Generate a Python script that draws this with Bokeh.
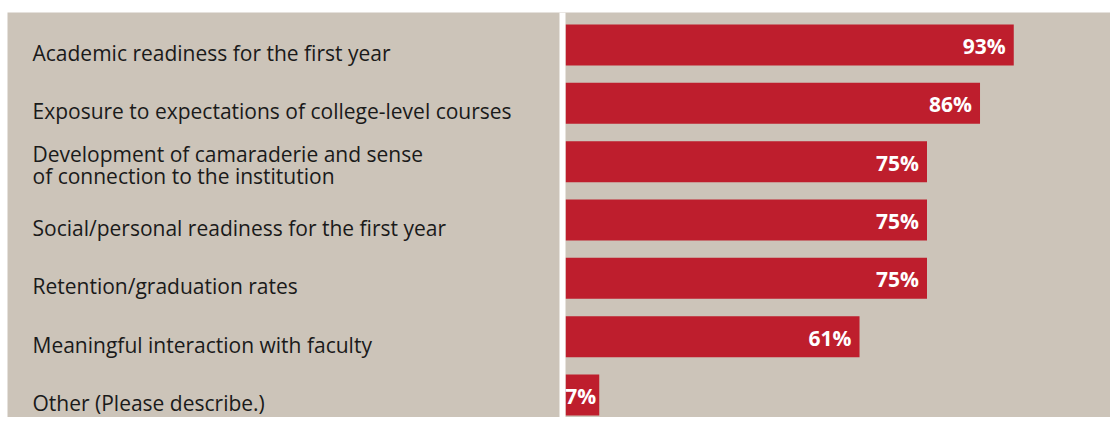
from bokeh.plotting import figure
from bokeh.models import Range1d, ColumnDataSource, BoxAnnotation
from bokeh.core.properties import value
from bokeh.embed import file_html
from bokeh.resources import INLINE

categories = [
    "Academic readiness for the first year",
    "Exposure to expectations of college-level courses",
    "Development of camaraderie and sense\nof connection to the institution",
    "Social/personal readiness for the first year",
    "Retention/graduation rates",
    "Meaningful interaction with faculty",
    "Other (Please describe.)",
]
values = [93, 86, 75, 75, 75, 61, 7]
value_labels = ["93%", "86%", "75%", "75%", "75%", "61%", "7%"]

BEIGE = "#CCC4B9"
RED = "#BE1E2D"

W, H = 1110, 417
LEFT, TOP = 7, 12
px_per = 4.82            # pixels per percentage point
zero_px = 565 - LEFT     # x pixel of 0 % inside the frame
frame_w = W - LEFT
x_start = -zero_px / px_per
x_end = (frame_w - zero_px) / px_per

pitch = 58.33
first_c = 44.5 - TOP     # first bar centre relative to frame top
frame_h = H - TOP
y_top = -first_c / pitch
y_bot = (frame_h - first_c) / pitch

rows = list(range(len(categories)))
src = ColumnDataSource(dict(
    y=rows,
    v=values,
    lab=value_labels,
    cat=categories,
    lx=[x_start + 25 / px_per] * len(rows),
    off=[-8 if v >= 10 else -3 for v in values],
    yoff=[3 if "\n" in c else 8 for c in categories],
))

p = figure(width=W, height=H, output_backend="svg", toolbar_location=None,
           x_range=Range1d(x_start, x_end), y_range=Range1d(y_bot, y_top),
           min_border_left=LEFT, min_border_right=0, min_border_bottom=0,
           min_border_top=TOP)
p.background_fill_color = BEIGE
p.border_fill_color = "white"
p.outline_line_color = None
p.grid.visible = False
p.axis.visible = False

# white separator between label panel and bar panel
p.add_layout(BoxAnnotation(left=-6 / px_per, right=0, fill_color="white",
                           fill_alpha=1, line_color=None))

p.hbar(y="y", left=0, right="v", height=41 / pitch, source=src,
       fill_color=RED, line_color=None)

p.text(x="v", y="y", text="lab", source=src, x_offset="off", y_offset=1,
       text_align="right", text_baseline="middle", text_color="white",
       text_font=value("Open Sans"), text_font_style="bold",
       text_font_size="21px")

p.text(x="lx", y="y", text="cat", source=src, y_offset="yoff",
       text_align="left", text_baseline="middle", text_color="#1a1a1a",
       text_font=value("Open Sans"), text_font_size="21px",
       text_line_height=0.78)

open("out.html", "w").write(file_html(p, INLINE))
